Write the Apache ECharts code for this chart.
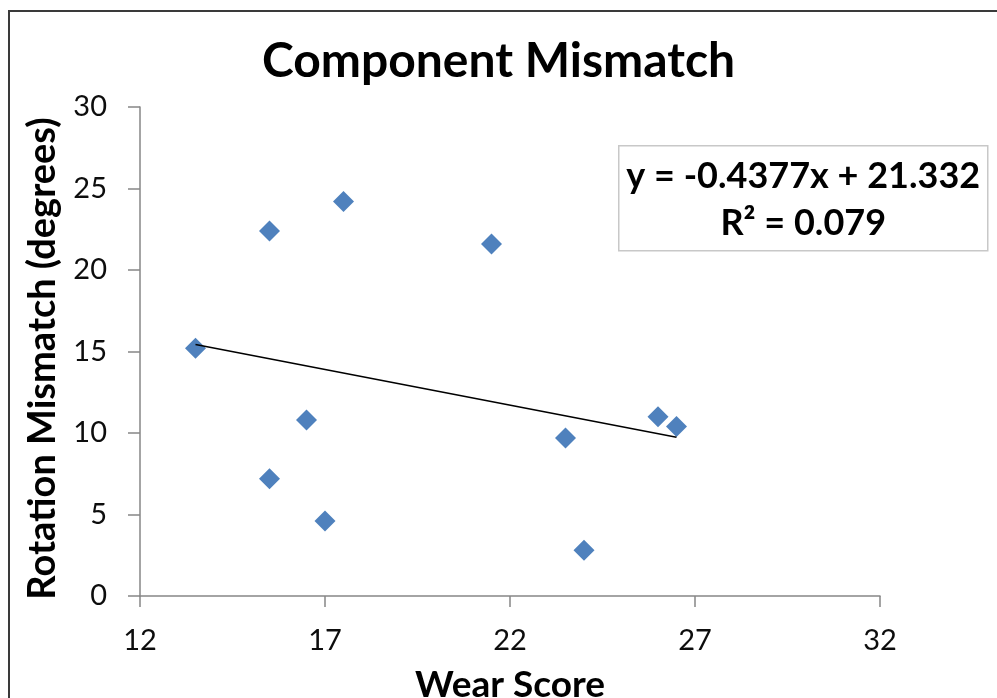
<!DOCTYPE html>
<html>
<head>
<meta charset="utf-8">
<title>Component Mismatch</title>
<script src="https://cdn.jsdelivr.net/npm/echarts@6/dist/echarts.min.js"></script>
<style>
  html, body { margin: 0; padding: 0; background: #ffffff; }
  #chart { width: 997px; height: 698px; }
</style>
</head>
<body>
<div id="chart"></div>
<script>
// Wear score (x) and rotation mismatch in degrees (y) for each component
const wearScore = [13.5, 15.5, 15.5, 16.5, 17.0, 17.5, 21.5, 23.5, 24.0, 26.0, 26.5];
const rotationMismatch = [15.2, 22.4, 7.2, 10.8, 4.6, 24.2, 21.6, 9.7, 2.8, 11.0, 10.4];

// Linear trendline as reported by the fit
const SLOPE = -0.4377;
const INTERCEPT = 21.332;
const R_SQUARED = 0.079;

// Axis ranges and tick steps
const xTicks = [12, 17, 22, 27, 32];
const yTicks = [0, 5, 10, 15, 20, 25, 30];

const FONT = 'Lato, "Liberation Sans", sans-serif';

const points = wearScore.map((x, i) => [x, rotationMismatch[i]]);
const xMin = Math.min(...wearScore);
const xMax = Math.max(...wearScore);
const trend = [xMin, xMax].map(x => [x, SLOPE * x + INTERCEPT]);

const eqText = 'y = ' + SLOPE.toFixed(4) + 'x + ' + INTERCEPT.toFixed(3);
const r2Text = 'R\u00B2 = ' + R_SQUARED.toFixed(3);

const chart = echarts.init(document.getElementById('chart'), null, { renderer: 'canvas' });

const axisLineStyle = { color: '#868686', width: 1.5 };

chart.setOption({
  animation: false,
  backgroundColor: '#ffffff',
  title: {
    text: 'Component Mismatch',
    left: 'center',
    top: 33,
    textStyle: { fontFamily: FONT, fontWeight: 'bold', fontSize: 48, color: '#000000' }
  },
  grid: {
    left: 140, right: 117, top: 107, bottom: 102,
    containLabel: false,
    outerBoundsMode: 'none'
  },
  xAxis: {
    type: 'value',
    min: xTicks[0],
    max: xTicks[xTicks.length - 1],
    interval: xTicks[1] - xTicks[0],
    name: 'Wear Score',
    nameLocation: 'middle',
    nameGap: 71,
    nameTextStyle: { fontFamily: FONT, fontWeight: 'bold', fontSize: 37, color: '#000000' },
    axisLine: { show: true, onZero: false, lineStyle: axisLineStyle },
    axisTick: { show: true, inside: false, length: 11, lineStyle: axisLineStyle },
    axisLabel: { margin: 30, fontFamily: FONT, fontSize: 29, color: '#0d0d0d' },
    splitLine: { show: false }
  },
  yAxis: {
    type: 'value',
    min: yTicks[0],
    max: yTicks[yTicks.length - 1],
    interval: yTicks[1] - yTicks[0],
    name: 'Rotation Mismatch (degrees)',
    nameLocation: 'middle',
    nameGap: 78,
    nameTextStyle: { fontFamily: FONT, fontWeight: 'bold', fontSize: 38, color: '#000000', padding: [0, 14, 0, 0] },
    axisLine: { show: true, onZero: false, lineStyle: axisLineStyle },
    axisTick: { show: true, inside: false, length: 12, lineStyle: axisLineStyle },
    axisLabel: { margin: 33, fontFamily: FONT, fontSize: 29, color: '#0d0d0d' },
    splitLine: { show: false }
  },
  series: [
    {
      name: 'Trendline',
      type: 'line',
      data: trend,
      symbol: 'none',
      lineStyle: { color: '#000000', width: 1.5 },
      z: 3
    },
    {
      name: 'Components',
      type: 'scatter',
      data: points,
      symbol: 'diamond',
      symbolSize: 21,
      itemStyle: { color: '#4F81BD', opacity: 1 },
      z: 2
    }
  ],
  graphic: [
    {
      // chart frame
      type: 'rect',
      shape: { x: 9, y: 11, width: 1000, height: 700 },
      style: { fill: 'none', stroke: '#3a3a3a', lineWidth: 2 },
      silent: true
    },
    {
      type: 'group',
      left: 618,
      top: 145,
      children: [
        {
          type: 'rect',
          shape: { x: 0, y: 0, width: 369, height: 105 },
          style: { fill: '#ffffff', stroke: '#c8c8c8', lineWidth: 1.5 }
        },
        {
          type: 'text',
          x: 184.5,
          y: 31,
          style: {
            text: eqText,
            fontFamily: FONT, fontWeight: 'bold', fontSize: 36, fill: '#000000',
            textAlign: 'center', textVerticalAlign: 'middle'
          }
        },
        {
          type: 'text',
          x: 184.5,
          y: 78,
          style: {
            text: r2Text,
            fontFamily: FONT, fontWeight: 'bold', fontSize: 36, fill: '#000000',
            textAlign: 'center', textVerticalAlign: 'middle'
          }
        }
      ]
    }
  ]
});
</script>
</body>
</html>
